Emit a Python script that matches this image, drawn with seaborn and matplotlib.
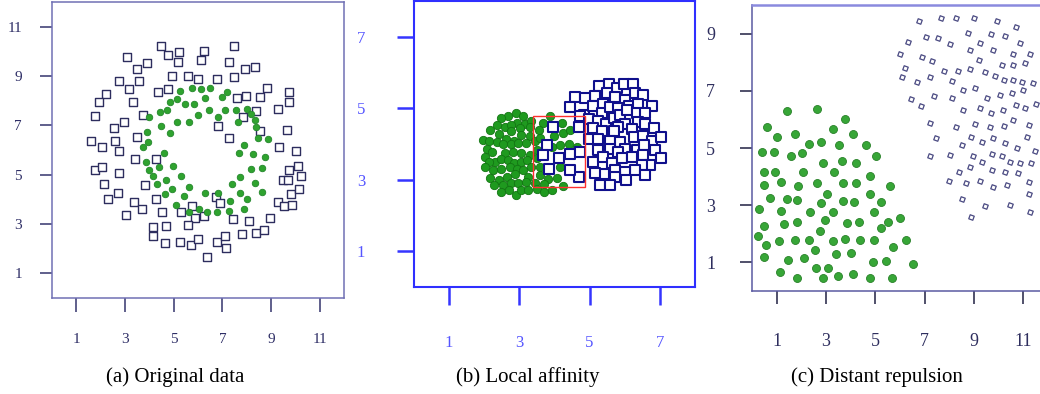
import matplotlib
matplotlib.use("Agg")
import matplotlib.pyplot as plt
from matplotlib.patches import Rectangle
import pandas as pd
import seaborn as sns

# ---------------- data ----------------
# (a) original data: outer ring (squares) and inner ring (dots)
orig_outer = [
    (4.49, 10.20), (7.46, 10.20), (3.07, 9.79), (4.75, 9.86), (5.23, 9.99), (6.23, 10.03),
    (5.17, 9.56), (6.13, 9.63), (7.26, 9.56), (8.33, 9.38), (7.94, 9.28), (3.90, 9.52),
    (3.51, 9.28), (4.95, 8.98), (5.57, 8.98), (5.99, 8.87), (6.78, 8.87), (7.46, 8.94),
    (2.77, 8.78), (3.58, 8.78), (8.83, 8.53), (2.22, 8.28), (1.95, 7.96), (3.17, 8.47),
    (3.31, 7.96), (4.36, 8.34), (4.77, 8.47), (7.60, 8.09), (7.97, 8.17), (8.55, 8.15),
    (9.74, 8.37), (9.75, 7.94), (9.29, 7.68), (8.40, 7.57), (1.76, 7.36), (3.76, 7.42),
    (2.94, 7.15), (2.54, 6.91), (7.86, 7.32), (6.84, 6.98), (8.56, 6.79), (9.66, 6.80),
    (7.27, 6.50), (1.59, 6.37), (2.07, 6.13), (2.57, 6.38), (2.77, 5.96), (3.51, 6.53),
    (9.34, 6.13), (10.01, 5.96), (3.42, 5.65), (4.28, 5.64), (1.78, 5.18), (2.07, 5.31),
    (2.76, 5.06), (10.12, 5.35), (10.25, 4.96), (9.74, 5.19), (9.49, 4.77), (9.71, 4.79),
    (2.13, 4.64), (3.83, 4.57), (4.29, 4.02), (2.30, 4.02), (2.70, 4.25), (9.81, 4.23),
    (10.14, 4.41), (3.35, 3.89), (3.70, 3.61), (3.05, 3.38), (9.27, 3.89), (9.55, 3.72),
    (9.88, 3.79), (8.97, 3.25), (5.75, 3.71), (5.87, 3.23), (6.26, 3.34), (6.75, 4.11),
    (6.91, 3.87), (4.51, 3.48), (5.32, 3.48), (5.57, 2.96), (7.43, 3.22), (8.11, 3.14),
    (4.16, 2.89), (4.68, 2.92), (4.17, 2.52), (4.65, 2.23), (5.24, 2.27), (5.71, 2.16),
    (6.01, 2.41), (6.79, 2.29), (7.11, 2.52), (7.82, 2.58), (8.38, 2.62), (8.70, 2.77),
    (7.17, 2.04), (6.36, 1.65),
]
orig_inner = [
    (5.75, 8.51), (6.12, 8.47), (6.50, 8.51), (5.27, 8.40), (7.19, 8.34), (6.98, 8.13),
    (6.28, 8.10), (5.13, 8.06), (4.83, 7.96), (5.47, 7.87), (5.82, 7.87), (4.71, 7.63),
    (4.42, 7.53), (3.99, 7.33), (5.98, 7.42), (6.46, 7.63), (7.09, 7.63), (7.56, 7.63),
    (8.01, 7.67), (6.84, 7.32), (5.13, 7.15), (5.64, 7.15), (7.64, 7.15), (8.18, 7.46),
    (8.35, 7.21), (8.40, 6.92), (4.47, 6.98), (4.83, 6.68), (3.92, 6.73), (3.94, 6.34),
    (3.73, 6.14), (8.86, 6.45), (8.46, 6.48), (7.87, 6.21), (7.70, 5.88), (8.27, 5.83),
    (8.77, 5.71), (4.61, 5.87), (3.85, 5.50), (4.40, 5.33), (4.98, 5.37), (3.99, 5.17),
    (4.14, 4.94), (5.29, 4.95), (8.63, 5.26), (8.16, 5.25), (7.74, 4.91), (4.68, 4.77),
    (4.31, 4.62), (8.35, 4.67), (7.39, 4.61), (5.61, 4.48), (4.95, 4.41), (4.64, 4.23),
    (5.42, 4.14), (6.30, 4.25), (7.74, 4.26), (8.01, 4.03), (6.84, 4.27), (8.63, 4.30),
    (5.09, 3.77), (7.33, 3.94), (5.65, 3.48), (6.05, 3.60), (6.39, 3.48), (6.79, 3.48),
    (7.27, 3.54), (7.90, 3.62),
]

# (b) local affinity: dot cluster, square cluster and the local window
local_dots = [
    (2.90, 4.88), (3.11, 4.79), (2.68, 4.77), (2.49, 4.73), (2.94, 4.58), (3.15, 4.56),
    (3.34, 4.63), (3.88, 4.77), (2.36, 4.53), (2.16, 4.40), (2.58, 4.47), (2.77, 4.54),
    (2.75, 4.37), (3.02, 4.45), (3.30, 4.48), (3.66, 4.59), (4.20, 4.58), (2.41, 4.28),
    (3.06, 4.26), (3.30, 4.21), (3.56, 4.39), (3.98, 4.21), (4.23, 4.31), (4.45, 4.39),
    (1.97, 4.11), (2.14, 4.09), (2.35, 4.05), (2.61, 4.14), (2.85, 4.07), (2.54, 4.00),
    (2.75, 4.00), (2.96, 4.02), (3.18, 4.02), (3.44, 4.07), (3.59, 4.16), (4.16, 3.97),
    (4.41, 4.00), (4.64, 3.93), (2.08, 3.86), (2.22, 3.77), (2.58, 3.74), (2.81, 3.77),
    (3.04, 3.74), (3.30, 3.70), (3.49, 3.82), (3.94, 3.93), (2.01, 3.65), (2.32, 3.51),
    (2.14, 3.49), (2.47, 3.58), (2.68, 3.56), (2.85, 3.46), (3.06, 3.49), (3.22, 3.56),
    (3.51, 3.61), (2.01, 3.35), (2.24, 3.26), (2.47, 3.31), (2.73, 3.35), (2.92, 3.31),
    (3.11, 3.28), (3.34, 3.35), (3.58, 3.35), (4.15, 3.37), (2.17, 3.05), (2.42, 3.00),
    (2.66, 3.09), (2.87, 3.15), (3.25, 3.07), (3.58, 3.12), (3.82, 3.03), (4.08, 3.05),
    (2.28, 2.84), (2.54, 2.86), (2.77, 2.92), (2.96, 2.91), (3.20, 2.93), (3.44, 2.91),
    (3.70, 2.89), (4.24, 2.82), (2.47, 2.67), (2.70, 2.70), (2.90, 2.58), (3.06, 2.70),
    (3.25, 2.72), (3.51, 2.75), (3.70, 2.66), (3.93, 2.70),
]
local_squares = [
    (3.95, 4.48), (3.80, 3.98), (3.68, 3.68), (3.83, 3.31), (4.84, 4.82),
    (5.28, 5.63), (5.56, 5.69), (5.77, 5.58), (5.99, 5.69), (6.23, 5.69), (6.28, 5.44),
    (6.51, 5.38), (5.49, 5.44), (5.16, 5.35), (4.59, 5.32), (4.87, 5.28), (4.44, 5.04),
    (5.11, 5.07), (5.39, 5.13), (5.73, 5.32), (6.01, 5.23), (6.11, 5.07), (6.39, 5.12),
    (6.77, 5.07), (5.35, 4.88), (5.58, 5.04), (5.82, 5.02), (4.73, 4.79), (4.97, 4.70),
    (5.23, 4.65), (5.47, 4.56), (5.68, 4.74), (5.87, 4.82), (6.06, 4.95), (6.34, 4.86),
    (6.58, 4.86), (6.37, 4.61), (6.58, 4.56), (6.82, 4.45), (6.01, 4.56), (5.82, 4.47),
    (6.20, 4.42), (5.11, 4.45), (5.35, 4.37), (5.68, 4.37), (4.70, 4.48), (4.97, 4.14),
    (5.25, 4.14), (5.58, 4.09), (5.87, 4.05), (6.25, 4.19), (6.51, 4.23), (6.77, 4.09),
    (7.04, 4.19), (6.01, 3.86), (6.34, 3.82), (6.56, 3.96), (6.85, 3.82), (4.44, 3.72),
    (4.73, 3.77), (5.25, 3.82), (5.58, 3.86), (5.82, 3.77), (5.11, 3.49), (5.39, 3.65),
    (5.63, 3.46), (5.92, 3.61), (6.20, 3.63), (6.51, 3.68), (6.72, 3.40), (7.04, 3.61),
    (6.49, 3.40), (6.30, 3.26), (6.01, 3.21), (5.73, 3.28), (5.42, 3.17), (5.16, 3.18),
    (4.70, 3.09), (4.44, 3.28), (4.13, 3.61), (6.04, 3.00), (5.73, 3.07), (6.58, 3.12),
    (5.30, 2.84), (5.58, 2.84),
]
local_window_x = (3.39, 4.88)
local_window_y = (2.79, 4.77)

# (c) distant repulsion: dot cloud and diamond cloud
distant_dots = [
    (1.42, 6.29), (2.64, 6.36), (3.79, 6.00), (0.61, 5.72), (1.01, 5.40), (1.73, 5.49),
    (3.29, 5.65), (4.08, 5.49), (2.33, 5.13), (2.80, 5.22), (3.52, 5.10), (4.64, 5.10),
    (0.41, 4.85), (0.88, 4.85), (1.60, 4.72), (2.03, 4.81), (5.03, 4.72), (2.87, 4.46),
    (3.65, 4.56), (4.23, 4.46), (0.47, 4.15), (0.92, 4.15), (2.07, 4.15), (3.34, 4.15),
    (4.77, 4.02), (0.47, 3.71), (1.19, 3.80), (1.87, 3.68), (2.64, 3.76), (3.68, 3.76),
    (4.23, 3.76), (5.61, 3.68), (0.74, 3.24), (1.42, 3.21), (1.83, 3.18), (3.04, 3.38),
    (2.81, 3.07), (3.68, 3.15), (4.15, 3.12), (4.80, 3.38), (5.21, 3.12), (0.30, 2.86),
    (1.19, 2.81), (2.37, 2.75), (3.27, 2.75), (4.96, 2.75), (0.47, 2.27), (1.31, 2.34),
    (1.83, 2.42), (2.95, 2.48), (3.85, 2.37), (4.33, 2.40), (5.52, 2.42), (5.99, 2.56),
    (5.21, 2.19), (2.75, 2.10), (0.24, 1.92), (0.57, 1.61), (1.11, 1.75), (1.76, 1.78),
    (2.30, 1.78), (3.27, 1.76), (3.79, 1.82), (4.39, 1.78), (4.96, 1.78), (6.25, 1.78),
    (2.57, 1.43), (3.41, 1.28), (4.03, 1.32), (5.71, 1.53), (0.47, 1.18), (1.46, 1.08),
    (2.12, 1.14), (4.90, 1.00), (5.44, 1.05), (6.52, 0.93), (1.12, 0.68), (2.60, 0.79),
    (3.07, 0.79), (1.83, 0.44), (2.87, 0.44), (3.49, 0.52), (4.08, 0.59), (4.80, 0.47),
    (5.68, 0.47),
]
distant_diamonds = [
    (6.79, 9.45), (7.65, 9.53), (8.28, 9.53), (9.01, 9.53), (9.93, 9.45), (10.71, 9.22),
    (8.74, 9.01), (9.68, 8.99), (10.26, 8.92), (7.06, 8.87), (7.56, 8.83), (6.34, 8.72),
    (8.01, 8.64), (9.25, 8.68), (10.87, 8.68), (8.82, 8.43), (9.76, 8.43), (10.57, 8.29),
    (11.28, 8.29), (6.00, 8.29), (6.88, 8.17), (7.29, 8.04), (9.22, 8.08), (10.13, 7.90),
    (10.60, 7.90), (11.08, 7.96), (6.21, 7.79), (7.80, 7.70), (8.34, 7.70), (8.82, 7.76),
    (9.43, 7.65), (9.86, 7.52), (10.20, 7.38), (10.60, 7.38), (10.94, 7.32), (11.39, 7.26),
    (6.07, 7.47), (6.68, 7.32), (7.22, 7.47), (8.10, 7.34), (8.57, 7.03), (9.05, 7.09),
    (9.52, 6.74), (10.06, 6.85), (10.53, 6.91), (10.98, 7.03), (11.52, 6.54), (6.45, 6.71),
    (6.84, 6.47), (7.36, 6.83), (8.11, 6.76), (8.57, 6.33), (9.25, 6.39), (9.70, 6.21),
    (10.17, 6.33), (10.71, 6.50), (11.08, 6.39), (7.22, 5.89), (8.26, 5.75), (9.06, 5.84),
    (9.66, 5.75), (10.20, 5.77), (10.60, 5.98), (11.21, 5.80), (7.46, 5.36), (8.51, 5.10),
    (8.87, 5.40), (9.32, 5.22), (9.79, 5.34), (10.26, 5.16), (10.74, 4.99), (11.14, 5.40),
    (11.48, 4.91), (7.22, 4.72), (8.01, 4.76), (8.94, 4.72), (9.32, 4.52), (9.72, 4.79),
    (10.13, 4.72), (10.47, 4.52), (10.87, 4.46), (11.32, 4.46), (8.41, 4.17), (8.82, 4.35),
    (9.72, 4.23), (10.26, 4.17), (10.80, 4.14), (11.21, 3.82), (7.98, 3.85), (8.68, 3.76),
    (9.25, 3.85), (9.79, 3.65), (10.33, 3.71), (11.24, 3.39), (8.51, 3.21), (9.45, 2.97),
    (10.44, 3.01), (11.25, 2.75), (8.88, 2.58),
]

tick_odd_11 = [1, 3, 5, 7, 9, 11]
tick_odd_7 = [1, 3, 5, 7]
tick_odd_9 = [1, 3, 5, 7, 9]

captions = ["(a) Original data", "(b) Local affinity", "(c) Distant repulsion"]


def frame(points):
    return pd.DataFrame(points, columns=["x", "y"])


# ---------------- figure ----------------
sns.set_theme(style="white")
plt.rcParams["font.family"] = ["Liberation Serif", "DejaVu Serif"]

W, H = 1040, 394
fig = plt.figure(figsize=(W / 100, H / 100), dpi=100)
fig.patch.set_facecolor("white")


def axes_px(left, top, right, bottom):
    return fig.add_axes([left / W, 1 - bottom / H, (right - left) / W, (bottom - top) / H])


def style_axes(ax, xlim, ylim, xticks, yticks, spine_color, spine_w, tick_color,
               tick_w, label_color, fontsize, ylen, ypad, xlen, xpad):
    ax.set_xlim(*xlim)
    ax.set_ylim(*ylim)
    ax.set_xticks(xticks)
    ax.set_yticks(yticks)
    ax.set_xlabel("")
    ax.set_ylabel("")
    ax.grid(False)
    ax.set_facecolor("white")
    for s in ax.spines.values():
        s.set_visible(True)
        s.set_color(spine_color)
        s.set_linewidth(spine_w)
    ax.tick_params(axis="y", which="major", direction="out", left=True, length=ylen,
                   width=tick_w, color=tick_color, labelcolor=label_color,
                   labelsize=fontsize, pad=ypad)
    ax.tick_params(axis="x", which="major", direction="out", bottom=True, length=xlen,
                   width=tick_w, color=tick_color, labelcolor=label_color,
                   labelsize=fontsize, pad=xpad)


# (a) original data
ax_a = axes_px(52, 2, 344, 298)
sns.scatterplot(data=frame(orig_outer), x="x", y="y", ax=ax_a, marker="s", s=27,
                color="white", edgecolor="#2d2d5e", linewidth=1.0, zorder=3)
sns.scatterplot(data=frame(orig_inner), x="x", y="y", ax=ax_a, marker="o", s=22,
                color="#2fa32f", edgecolor="#22862a", linewidth=0.6, zorder=4)
style_axes(ax_a, (0, 12), (0, 12), tick_odd_11, tick_odd_11, "#7070b4", 1.1,
           "#34346c", 1.1, "#2e2e66", 11, 8.6, 13, 10, 15)

# (b) local affinity
ax_b = axes_px(414, 1, 695, 287)
sns.scatterplot(data=frame(local_dots), x="x", y="y", ax=ax_b, marker="o", s=36,
                color="#1f9a1f", edgecolor="#137513", linewidth=0.6, zorder=3)
sns.scatterplot(data=frame(local_squares), x="x", y="y", ax=ax_b, marker="s", s=50,
                color="white", edgecolor="#10108c", linewidth=1.5, zorder=4)
ax_b.add_patch(Rectangle((local_window_x[0], local_window_y[0]),
                         local_window_x[1] - local_window_x[0],
                         local_window_y[1] - local_window_y[0],
                         fill=False, edgecolor="#ff3030", linewidth=1.0, zorder=5))
style_axes(ax_b, (0, 8), (0, 8), tick_odd_7, tick_odd_7, "#2f2fff", 1.5,
           "#3535ff", 1.8, "#5555ff", 12, 12.2, 23, 13, 21.5)

# (c) distant repulsion
ax_c = axes_px(752, 5, 1048, 291)
sns.scatterplot(data=frame(distant_dots), x="x", y="y", ax=ax_c, marker="o", s=33,
                color="#37a637", edgecolor="#278027", linewidth=0.6, zorder=3)
sns.scatterplot(data=frame(distant_diamonds), x="x", y="y", ax=ax_c, marker=(4, 0, 25),
                s=19, color="white", edgecolor="#4a4a82", linewidth=0.9, zorder=4)
style_axes(ax_c, (0, 12), (0, 10), tick_odd_11, tick_odd_9, "#5a5aa2", 1.1,
           "#50506a", 1.4, "#2e2e5e", 13, 8.6, 18, 9.6, 21)
ax_c.spines["top"].set_color("#8a8ade")
ax_c.spines["top"].set_linewidth(1.8)

for ax in (ax_a, ax_b, ax_c):
    leg = ax.get_legend()
    if leg is not None:
        leg.remove()

# sub-figure captions
for cx, text in zip([175, 528, 877], captions):
    fig.text(cx / W, 1 - 377 / H, text, ha="center", va="center", fontsize=15,
             color="black")

fig.savefig("out.png", dpi=100, facecolor="white")
